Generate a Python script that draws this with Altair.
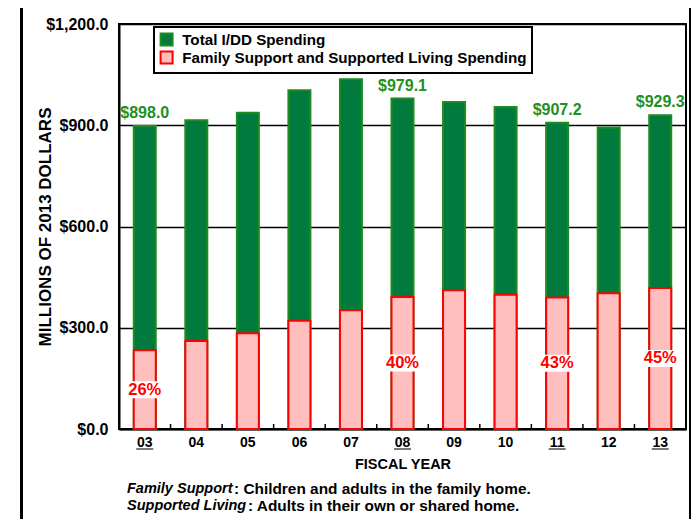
import altair as alt
import pandas as pd

# ---- data ----
years = ["03", "04", "05", "06", "07", "08", "09", "10", "11", "12", "13"]
total = [898.0, 915.0, 937.0, 1004.0, 1036.0, 979.1, 969.0, 954.0, 907.2, 893.0, 929.3]
family = [233.0, 261.0, 284.0, 321.0, 352.0, 391.0, 411.0, 398.0, 390.0, 402.0, 418.0]
labeled_years = ["03", "08", "11", "13"]

series_total = "Total I/DD Spending"
series_family = "Family Support and Supported Living Spending"
y_ticks = [0, 300, 600, 900, 1200]

foot1_a = "Family Support"
foot1_b = ": Children and adults in the family home."
foot2_a = "Supported Living"
foot2_b = ": Adults in their own or shared home."

# ---- tables ----
long_df = pd.DataFrame({
    "year": years + years,
    "series": [series_total] * len(years) + [series_family] * len(years),
    "value": total + family,
})
wide_df = pd.DataFrame({"year": years, "total": total, "family": family})
lab_df = wide_df[wide_df["year"].isin(labeled_years)].reset_index(drop=True)
one = pd.DataFrame({"a": [0]})

W, H = 567, 405
GREEN = "#007A3D"
GREEN_STROKE = "#1E8C1E"
GREEN_TEXT = "#1F8F1F"
PINK = "#FFBFBF"
RED = "#FF0000"
FONT = "Liberation Sans"

x_enc = alt.X(
    "year:N", sort=years,
    scale=alt.Scale(paddingInner=0, paddingOuter=0),
    axis=alt.Axis(title="FISCAL YEAR", labelAngle=0, ticks=False, domainColor="black",
                  domainWidth=2, labelFontSize=14, labelFontWeight="bold", labelColor="black",
                  labelPadding=6, titleFontSize=14.5, titleFontWeight="bold", titleColor="black",
                  titlePadding=8, grid=False),
)
x_plain = alt.X("year:N", sort=years, scale=alt.Scale(paddingInner=0, paddingOuter=0))
y_scale = alt.Scale(domain=[0, 1200], nice=False)

frame = alt.Chart(one).mark_rect(fillOpacity=0, stroke="black", strokeWidth=3).encode(
    x=alt.value(-97.5), x2=alt.value(571.5), y=alt.value(-19.5), y2=alt.value(540)
)

bars = alt.Chart(long_df).mark_bar(width=22, strokeWidth=2).encode(
    x=x_enc,
    y=alt.Y("value:Q", stack=None, scale=y_scale,
            axis=alt.Axis(values=y_ticks, format="$,.1f", ticks=False, domainColor="black",
                          domainWidth=2, labelFontSize=16, labelFontWeight="bold",
                          labelColor="black", labelPadding=11, gridColor="black", gridWidth=1.5,
                          title="MILLIONS OF 2013 DOLLARS", titleFontSize=17,
                          titleFontWeight="bold", titleColor="black", titleX=-74, titleY=H / 2,
                          titleAngle=270, titleAlign="center", titleBaseline="middle")),
    fill=alt.Fill("series:N", scale=alt.Scale(domain=[series_total, series_family],
                                              range=[GREEN, PINK]), title=None),
    stroke=alt.Stroke("series:N", scale=alt.Scale(domain=[series_total, series_family],
                                                  range=[GREEN_STROKE, RED]), title=None),
)

band_ticks = alt.Chart(wide_df).mark_rule(color="black", strokeWidth=1.5).encode(
    x=alt.X("year:N", sort=years, bandPosition=0), y=alt.value(H - 5), y2=alt.value(H)
)

label_bg = alt.Chart(lab_df).transform_calculate(mid="datum.family / 2").mark_point(
    shape="M-1,-0.5L1,-0.5L1,0.5L-1,0.5Z", size=1156, filled=True, fill="white",
    opacity=1, strokeWidth=0
).encode(x=x_plain, y=alt.Y("mid:Q", scale=y_scale))

pct_text = alt.Chart(lab_df).transform_calculate(
    mid="datum.family / 2", pct="format(datum.family / datum.total, '.0%')"
).mark_text(color=RED, fontSize=16.5, fontWeight="bold", baseline="middle").encode(
    x=x_plain, y=alt.Y("mid:Q", scale=y_scale), text="pct:N"
)

val_text = alt.Chart(lab_df).mark_text(
    color=GREEN_TEXT, fontSize=16, fontWeight="bold", baseline="bottom", dy=-5
).encode(x=x_plain, y=alt.Y("total:Q", scale=y_scale), text=alt.Text("total:Q", format="$,.1f"))

underline = alt.Chart(lab_df).mark_tick(
    orient="horizontal", size=17, thickness=1.5, color="black"
).encode(x=x_plain, y=alt.value(H + 20))

def note(txt, x, y, italic, size):
    return alt.Chart(one).mark_text(
        align="left", baseline="middle", fontSize=size, fontWeight="bold",
        fontStyle="italic" if italic else "normal", color="black"
    ).encode(x=alt.value(x), y=alt.value(y), text=alt.value(txt))

notes = [
    note(foot1_a, 8, 465, True, 14.5), note(foot1_b, 115, 465, False, 15.4),
    note(foot2_a, 8, 482, True, 14.5), note(foot2_b, 129, 482, False, 15.4),
]

chart = alt.layer(frame, bars, band_ticks, label_bg, pct_text, val_text, underline, *notes).properties(
    width=W, height=H,
    autosize=alt.AutoSizeParams(type="none"),
    padding={"left": 111, "top": 16, "right": 5, "bottom": 90},
).configure(font=FONT).configure_view(stroke="black", strokeWidth=2).configure_legend(
    orient="none", legendX=35, legendY=3, strokeColor="black", strokeWidth=2,
    fillColor="white", padding=5, symbolType="square", symbolSize=144,
    symbolStrokeWidth=2, labelFontSize=15.2, labelFontWeight="bold", labelColor="black",
    labelLimit=0, rowPadding=-5, labelOffset=8
)

chart.save("out.html", embed_options={"renderer": "svg", "actions": False})
